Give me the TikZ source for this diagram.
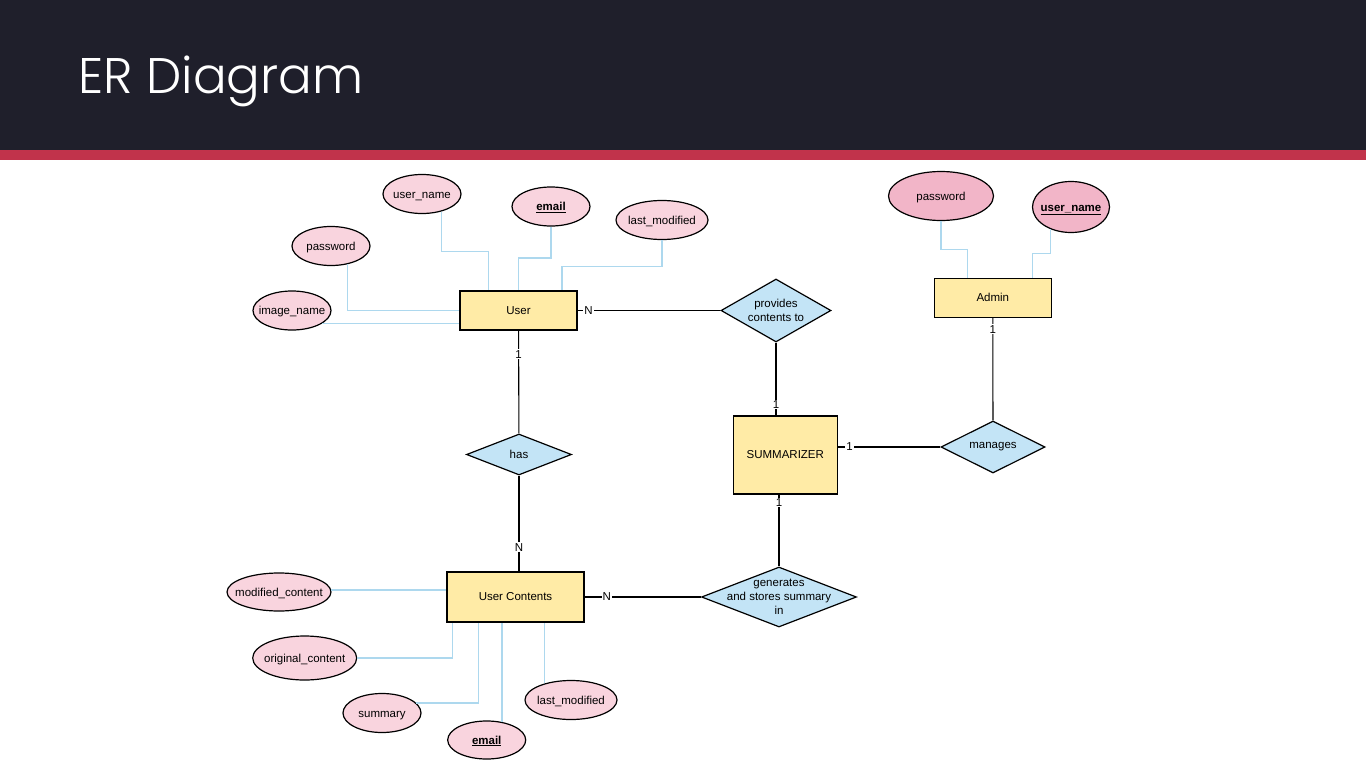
\documentclass[tikz,border=0pt]{standalone}
\usepackage{fontspec}
\setmainfont{Liberation Sans}
\newfontfamily\titlefont{Poppins}[UprightFont={* Light}]
\usetikzlibrary{shapes.geometric,calc}
\definecolor{hdrbg}{HTML}{1F1F2B}
\definecolor{hdrred}{HTML}{C1334B}
\definecolor{entfill}{HTML}{FFEBA6}
\definecolor{relfill}{HTML}{C3E4F6}
\definecolor{attfill}{HTML}{F9D4DE}
\definecolor{keyfill}{HTML}{F2B5C8}
\definecolor{lineblue}{HTML}{ADD8EE}
\begin{document}
\begin{tikzpicture}[x=1pt,y=-1pt,font=\fontsize{11.5}{14}\selectfont]
        \tikzstyle{entity}=[rectangle,draw=black,line width=1.2pt,fill=entfill,inner sep=0pt]
        \tikzstyle{attr}=[ellipse,draw=black,line width=1.2pt,fill=attfill,inner sep=0pt,minimum width=78pt,minimum height=39pt,
          text height=8pt,text depth=0pt,execute at begin node={\hbox to 0pt\bgroup\hss},execute at end node={\hss\egroup}]
        \tikzstyle{keyattr}=[attr,fill=keyfill]
        \tikzstyle{rel}=[diamond,draw=black,line width=1.2pt,fill=relfill,inner sep=0pt,aspect=2,align=center]
        \tikzstyle{link}=[draw=black,line width=1.1pt]
        \tikzstyle{attrline}=[draw=lineblue,line width=1.4pt]
        \tikzstyle{card}=[fill=white,inner sep=1pt]
        \useasboundingbox (0,0) rectangle (1366,768);
        \fill[hdrbg] (0,0) rectangle (1366,150);
        \fill[hdrred] (0,150) rectangle (1366,160);
        \node[anchor=base west,inner sep=0pt,text=white,font=\titlefont\fontsize{50}{60}\selectfont] (title) at (78,93) {ER Diagram};
       \begin{scope}
         \node [entity,minimum width=117pt,minimum height=39pt] (user) at (518.5,310.5) {User};
         \node [entity,minimum width=137pt,minimum height=50pt] (ucont) at (515.5,597) {User Contents};
         \node [entity,minimum width=104pt,minimum height=78pt] (summ) at (785.3,455) {SUMMARIZER};
         \node [entity,minimum width=117pt,minimum height=39pt] (admin) at (992.8,297.7) {Admin};
         \node [rel,minimum width=110pt,minimum height=63pt] (prov) at (776,310.5) {provides\\contents to};
         \node [rel,minimum width=105pt,minimum height=41pt] (has) at (519,454.5) {has};
         \node [rel,minimum width=104pt,minimum height=52pt] (mng) at (993,447) {manages};
         \node [rel,minimum width=155pt,minimum height=60pt,aspect=2.6,inner xsep=-21pt] (gen) at (779,597) {generates\\and stores summary\\in};

         \node [attr] (uname) at (422,194) {user\_name};
         \node [attr] (umail) at (551,206.5) {\underline{\textbf{email}}};
         \node [attr,minimum width=92pt] (umod) at (662,220) {last\_modified};
         \node [attr] (upass) at (331,246) {password};
         \node [attr] (uimg) at (292,310.5) {image\_name};

         \node [attr,minimum width=104pt,minimum height=38pt] (mcont) at (279,592) {modified\_content};
         \node [attr,minimum width=104pt,minimum height=44pt] (ocont) at (304.7,658) {original\_content};
         \node [attr] (csum) at (382,713) {summary};
         \node [attr,minimum height=38pt] (cmail) at (486.7,740) {\underline{\textbf{email}}};
         \node [attr,minimum width=92pt] (cmod) at (571,700) {last\_modified};

         \node [keyattr,minimum width=105pt,minimum height=49pt] (apass) at (941,196) {password};
         \node [keyattr,minimum width=77pt,minimum height=51pt] (aname) at (1071,207) {\underline{\textbf{user\_name}}};

         \path[attrline] (uname.-42) -- ++(0,40) -| ([xshift=-30pt]user.north);
         \path[attrline] (umail.south) -- ++(0,31.5) -| (user.north);
         \path[attrline] (umod.south) -- ++(0,26.5) -| ([xshift=43.5pt]user.north);
         \path[attrline] (upass.-48) |- (user.west);
         \path[attrline] (uimg.-23) -- (uimg.-23 -| user.west);

         \path[attrline] (mcont.2) -- (mcont.2 -| ucont.west);
         \path[attrline] (ocont.east) -| ([xshift=-63pt]ucont.south);
         \path[attrline] (csum.16) -| ([xshift=-37pt]ucont.south);
         \path[attrline] (cmail.50) -- (cmail.50 |- ucont.south);
         \path[attrline] (cmod.148) -- (cmod.148 |- ucont.south);

         \path[attrline] (apass.south) -- ++(0,28.5) -| ([xshift=-25.5pt]admin.north);
         \path[attrline] (aname.-133) -- ++(0,24.3) -| ([xshift=39.5pt]admin.north);

         \path[link] (user) edge node[card,pos=0.23] {1} (has);
         \path[link] (has.south) edge node[card,pos=0.75] {N} (has.south |- ucont.north);
         \path[link] (user.east) edge node[card,pos=0.077] {N} (prov.west);
         \path[link] (prov.south) edge node[card,pos=0.85] {1} (prov.south |- summ.north);
         \path[link] (admin) edge node[card,pos=0.11] {1} (mng);
         \path[link] (summ.east |- mng.west) edge node[card,pos=0.115] {1} (mng.west);
         \path[link] (gen.north |- summ.south) edge node[card,pos=0.11] {1} (gen.north);
         \path[link] (ucont.east) edge node[card,pos=0.19] {N} (gen.west);
        \end{scope}
      \end{tikzpicture}
\end{document}
